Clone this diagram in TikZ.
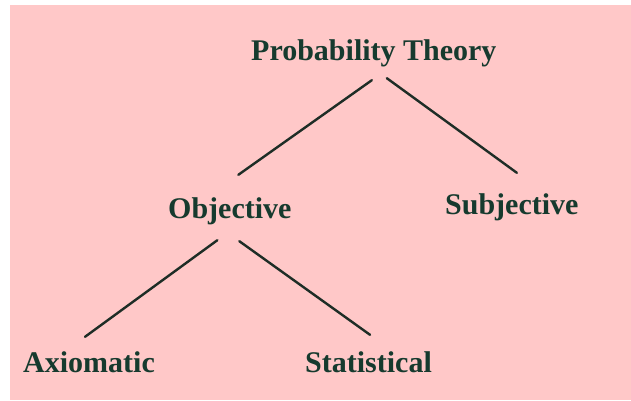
\documentclass[tikz,border=0pt]{standalone}
\usepackage{fontspec}
\setmainfont{Liberation Serif}
\usetikzlibrary{calc}
\definecolor{bgpink}{RGB}{255,200,200}
\definecolor{txtgreen}{RGB}{22,58,46}
\definecolor{linedark}{RGB}{30,45,38}
\begin{document}
\begin{tikzpicture}[x=1pt,y=-1pt,
  lbl/.style={anchor=base west,inner sep=0pt,text height=21pt,text depth=7pt,
    text=txtgreen,font=\fontsize{30}{36}\selectfont\bfseries},
  conn/.style={draw=linedark,line width=2.4pt,line cap=round}]
\useasboundingbox (0,0) rectangle (631,400);
\fill[white] (0,0) rectangle (631,400);
\fill[bgpink] (10,5) rectangle (631,400);
\node[lbl] (pt) at (251,60) {Probability Theory};
\node[lbl] (obj) at (168,218) {Objective};
\node[lbl] (subj) at (445,214) {Subjective};
\node[lbl] (ax) at (23,372) {Axiomatic};
\node[lbl] (stat) at (305,372) {Statistical};
\draw[conn] ([shift={(-2,13)}]pt.south) -- ([shift={(8.5,-22)}]obj.north);
\draw[conn] ([shift={(13,11)}]pt.south) -- ([shift={(5,-20)}]subj.north);
\draw[conn] ([shift={(-12.5,15)}]obj.south) -- ([shift={(-4,-14)}]ax.north);
\draw[conn] ([shift={(9.5,16)}]obj.south) -- ([shift={(1.5,-16)}]stat.north);
\end{tikzpicture}
\end{document}
